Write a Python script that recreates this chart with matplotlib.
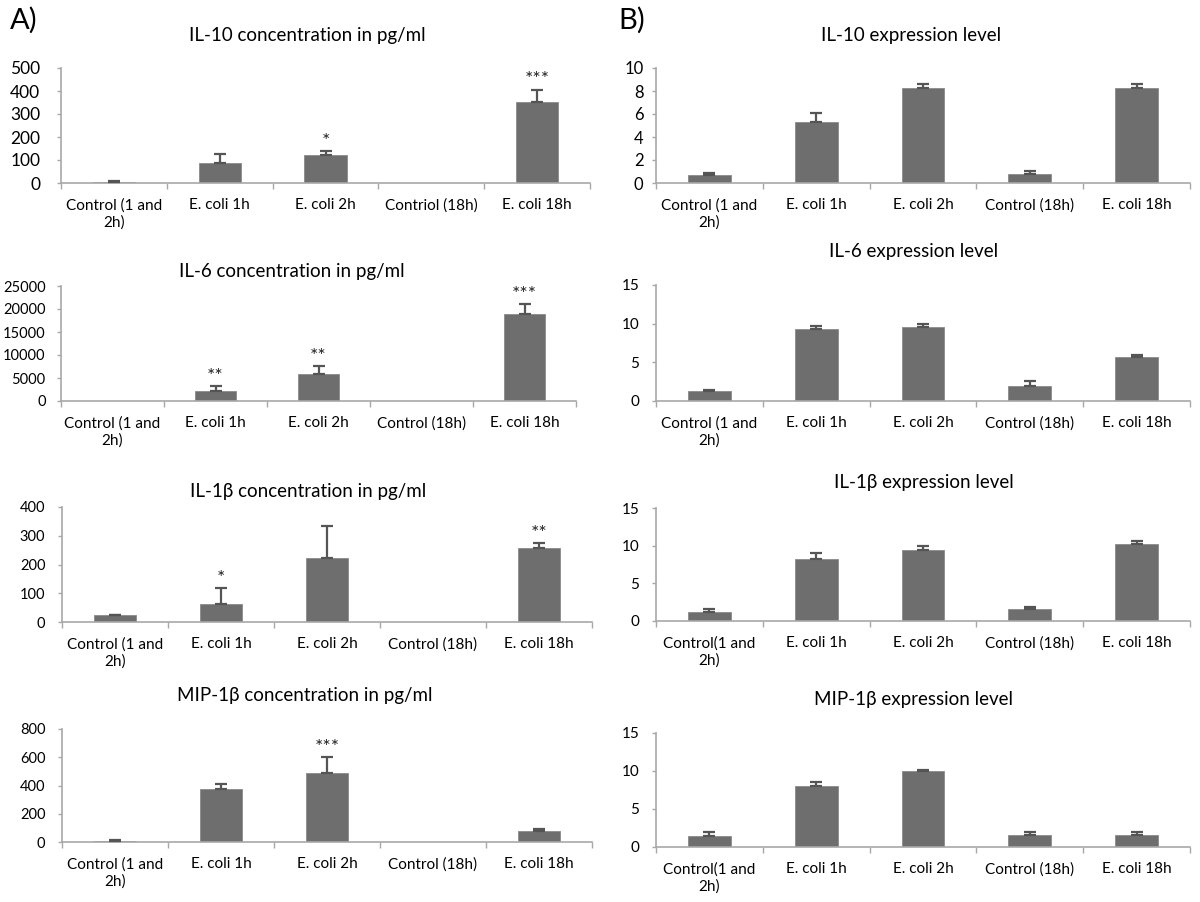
import matplotlib
matplotlib.use("Agg")
import matplotlib.pyplot as plt
import numpy as np

plt.rcParams['font.family'] = ['Lato', 'DejaVu Sans']

W, H = 1200, 902

cats_a1 = ["Control (1 and\n2h)", "E. coli 1h", "E. coli 2h", "Contriol (18h)", "E. coli 18h"]
cats_std = ["Control (1 and\n2h)", "E. coli 1h", "E. coli 2h", "Control (18h)", "E. coli 18h"]
cats_nospace = ["Control(1 and\n2h)", "E. coli 1h", "E. coli 2h", "Control (18h)", "E. coli 18h"]

# A) concentrations (pg/ml)
il10_conc = [5, 85, 121, 0, 352]
il10_conc_err = [2, 39, 17, 0, 54]
il10_conc_sig = ["", "", "*", "", "***"]

il6_conc = [0, 2250, 5870, 0, 18990]
il6_conc_err = [0, 1010, 1670, 0, 2100]
il6_conc_sig = ["", "**", "**", "", "***"]

il1b_conc = [23, 64, 221, 0, 256]
il1b_conc_err = [3, 53, 112, 0, 19]
il1b_conc_sig = ["", "*", "", "", "**"]

mip_conc = [7, 372, 489, 0, 75]
mip_conc_err = [9, 42, 111, 0, 19]
mip_conc_sig = ["", "", "***", "", ""]

# B) expression levels
il10_expr = [0.67, 5.3, 8.23, 0.81, 8.23]
il10_expr_err = [0.2, 0.8, 0.35, 0.2, 0.35]

il6_expr = [1.25, 9.34, 9.6, 1.99, 5.66]
il6_expr_err = [0.22, 0.39, 0.3, 0.56, 0.34]

il1b_expr = [1.19, 8.29, 9.4, 1.63, 10.28]
il1b_expr_err = [0.35, 0.8, 0.53, 0.18, 0.35]

mip_expr = [1.4, 7.98, 10.0, 1.62, 1.62]
mip_expr_err = [0.53, 0.57, 0.09, 0.31, 0.31]

yticks_il10_conc = [0, 100, 200, 300, 400, 500]
yticks_il6_conc = [0, 5000, 10000, 15000, 20000, 25000]
yticks_il1b_conc = [0, 100, 200, 300, 400]
yticks_mip_conc = [0, 200, 400, 600, 800]
yticks_il10_expr = [0, 2, 4, 6, 8, 10]
yticks_15 = [0, 5, 10, 15]

fig = plt.figure(figsize=(W / 100, H / 100), dpi=100)

BAR = "#6e6e6e"
AXC = "#a8a8a8"


def panel(box, cats, vals, errs, yticks, title, title_xy, sig=None, ytick_fs=10.5, ytick_pad=8):
    l, r, t, b = box
    ax = fig.add_axes([l / W, 1 - b / H, (r - l) / W, (b - t) / H])
    x = np.arange(len(vals))
    vals = np.asarray(vals, dtype=float)
    errs = np.asarray(errs, dtype=float)
    has = vals > 0
    ax.bar(x[has], vals[has], width=0.4, color=BAR, edgecolor="#8a8a8a", linewidth=0.6, zorder=2)
    he = errs > 0
    ax.errorbar(x[he], vals[he], yerr=[np.zeros(he.sum()), errs[he]], fmt="none",
                ecolor="#555555", elinewidth=1.6, capsize=4, capthick=1.6, zorder=3)
    ax.set_xlim(-0.5, len(vals) - 0.5)
    ax.set_ylim(yticks[0], yticks[-1])
    ax.set_yticks(yticks)
    ax.set_yticklabels([str(v) for v in yticks], fontsize=ytick_fs)
    ax.set_xticks(x)
    ax.set_xticklabels(cats, fontsize=11, linespacing=1.2)
    ax.tick_params(axis="x", length=0, pad=11)
    ax.set_xticks(np.arange(len(vals) + 1) - 0.5, minor=True)
    ax.tick_params(axis="x", which="minor", length=4, color=AXC, width=1, direction="out")
    ax.tick_params(axis="y", length=3, color=AXC, width=1, direction="out", pad=ytick_pad)
    for s in ["top", "right"]:
        ax.spines[s].set_visible(False)
    for s in ["left", "bottom"]:
        ax.spines[s].set_color(AXC)
        ax.spines[s].set_linewidth(1.2)
    if sig is not None:
        for xi, v, e, s in zip(x, vals, errs, sig):
            if s:
                ax.annotate(s, (xi, v + e), xytext=(0, 1), textcoords="offset points",
                            ha="center", va="bottom", fontsize=14,
                            color="#222222")
    fig.text(title_xy[0] / W, 1 - title_xy[1] / H, title, ha="center", va="center",
             fontsize=13.5)
    return ax


panel((61, 590, 68, 183), cats_a1, il10_conc, il10_conc_err, yticks_il10_conc,
      "IL-10 concentration in pg/ml", (307, 36), il10_conc_sig, ytick_fs=12.5, ytick_pad=12)
panel((61, 576, 286, 401), cats_std, il6_conc, il6_conc_err, yticks_il6_conc,
      "IL-6 concentration in pg/ml", (292, 272), il6_conc_sig, ytick_fs=10.5, ytick_pad=8)
panel((62, 592, 507, 622), cats_std, il1b_conc, il1b_conc_err, yticks_il1b_conc,
      "IL-1β concentration in pg/ml", (308, 492), il1b_conc_sig, ytick_fs=10.5, ytick_pad=9)
panel((62, 592, 729, 842), cats_std, mip_conc, mip_conc_err, yticks_mip_conc,
      "MIP-1β concentration in pg/ml", (305, 695), mip_conc_sig, ytick_fs=10.5, ytick_pad=9)

panel((656, 1190, 68, 183), cats_std, il10_expr, il10_expr_err, yticks_il10_expr,
      "IL-10 expression level", (911, 36), ytick_fs=12, ytick_pad=6)
panel((656, 1190, 285, 401), cats_std, il6_expr, il6_expr_err, yticks_15,
      "IL-6 expression level", (914, 252), ytick_fs=11, ytick_pad=9)
panel((656, 1190, 508, 621), cats_nospace, il1b_expr, il1b_expr_err, yticks_15,
      "IL-1β expression level", (924, 482), ytick_fs=11, ytick_pad=9)
panel((656, 1190, 733, 847), cats_nospace, mip_expr, mip_expr_err, yticks_15,
      "MIP-1β expression level", (913, 700), ytick_fs=11, ytick_pad=9)

fig.text(10 / W, 1 - 20 / H, "A)", fontsize=21, ha="left", va="center")
fig.text(618 / W, 1 - 20 / H, "B)", fontsize=21, ha="left", va="center")

fig.savefig("out.png", dpi=100)
